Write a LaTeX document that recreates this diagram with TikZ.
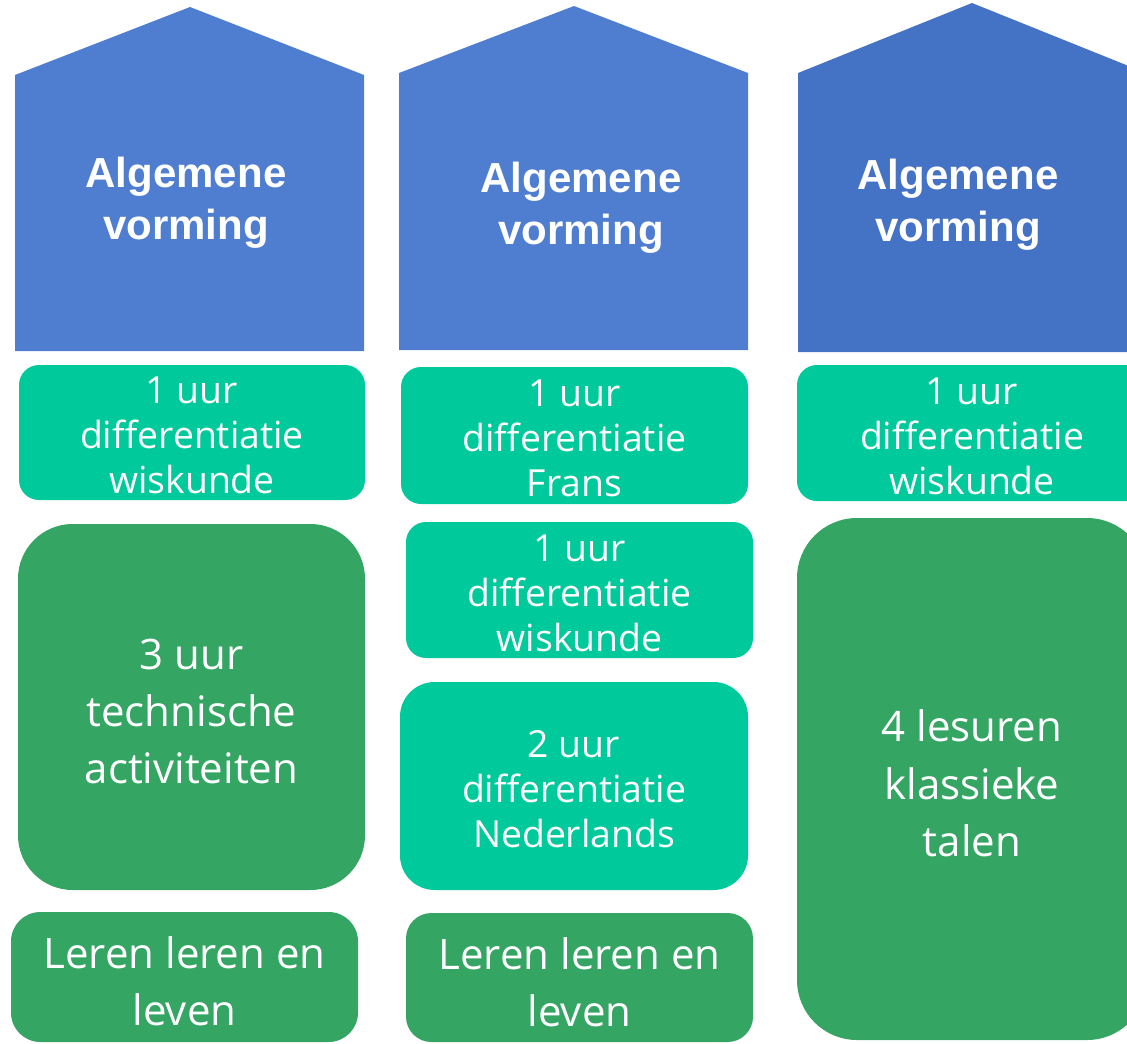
\documentclass[tikz,border=0pt]{standalone}
\usepackage{fontspec}
\setmainfont{Open Sans}
\newfontfamily\headfont{Liberation Sans}
\definecolor{huisblauw}{HTML}{4F7ED0}
\definecolor{huisdonker}{HTML}{4472C4}
\definecolor{diffgroen}{HTML}{00C99B}
\definecolor{vakgroen}{HTML}{34A562}

\begin{document}
\begin{tikzpicture}[x=0.75pt,y=-0.75pt,
  kop/.style={text=white,align=center,font=\headfont\bfseries\fontsize{31.5}{39}\selectfont},
  diff/.style={fill=diffgroen,inner sep=0pt,rounded corners=15pt},
  vak/.style={fill=vakgroen,inner sep=0pt},
  difftekst/.style={text=white,align=center,yshift=-2.4pt,font=\fontsize{28}{33.75}\selectfont},
  vaktekst/.style={text=white,align=center,yshift=-3.4pt,font=\fontsize{31.5}{43}\selectfont}]
\useasboundingbox (0,0) rectangle (1127,1043);
\clip (0,0) rectangle (1127,1043);
\fill[huisblauw] (15,351) -- (15,75) -- (190,7) -- (364,75) -- (364,351) -- cycle;
\fill[huisblauw] (399,350) -- (399,73) -- (574,6) -- (748,73) -- (748,350) -- cycle;
\fill[huisdonker] (798,352) -- (798,73) -- (972,3) -- (1146,73) -- (1146,352) -- cycle;
\node[kop] (h1) at (186,203) {Algemene\\vorming};
\node[kop] (h2) at (581,208) {Algemene\\vorming};
\node[kop] (h3) at (958,205) {Algemene\\vorming};
\node[diff,minimum width=259.5pt,minimum height=101.25pt] (a1) at (192,432.5) {};
\node[vak,minimum width=260.25pt,minimum height=274.5pt,rounded corners=41pt] (b1) at (191.5,707) {};
\node[vak,minimum width=260.25pt,minimum height=97.5pt,rounded corners=22pt] (c1) at (184.5,977) {};
\node[diff,minimum width=260.25pt,minimum height=102.75pt] (a2) at (574.5,435.5) {};
\node[diff,minimum width=260.25pt,minimum height=102pt] (b2) at (579.5,590) {};
\node[diff,minimum width=261pt,minimum height=156pt,rounded corners=26pt] (c2) at (574,786) {};
\node[vak,minimum width=260.25pt,minimum height=96.75pt,rounded corners=19pt] (d2) at (579.5,977.5) {};
\node[diff,minimum width=262.5pt,minimum height=102pt] (a3) at (972,433) {};
\node[vak,minimum width=262.5pt,minimum height=391.5pt,rounded corners=45pt] (b3) at (972,779) {};
\node[difftekst] (ta1) at (a1) {1 uur\\differentiatie\\wiskunde};
\node[vaktekst] (tb1) at (b1) {3 uur\\technische\\activiteiten};
\node[vaktekst] (tc1) at (c1) {Leren leren en\\leven};
\node[difftekst] (ta2) at (a2) {1 uur\\differentiatie\\Frans};
\node[difftekst] (tb2) at (b2) {1 uur\\differentiatie\\wiskunde};
\node[difftekst] (tc2) at (c2) {2 uur\\differentiatie\\Nederlands};
\node[vaktekst] (td2) at (d2) {Leren leren en\\leven};
\node[difftekst] (ta3) at (a3) {1 uur\\differentiatie\\wiskunde};
\node[vaktekst] (tb3) at (b3) {4 lesuren\\klassieke\\talen};
\end{tikzpicture}
\end{document}
